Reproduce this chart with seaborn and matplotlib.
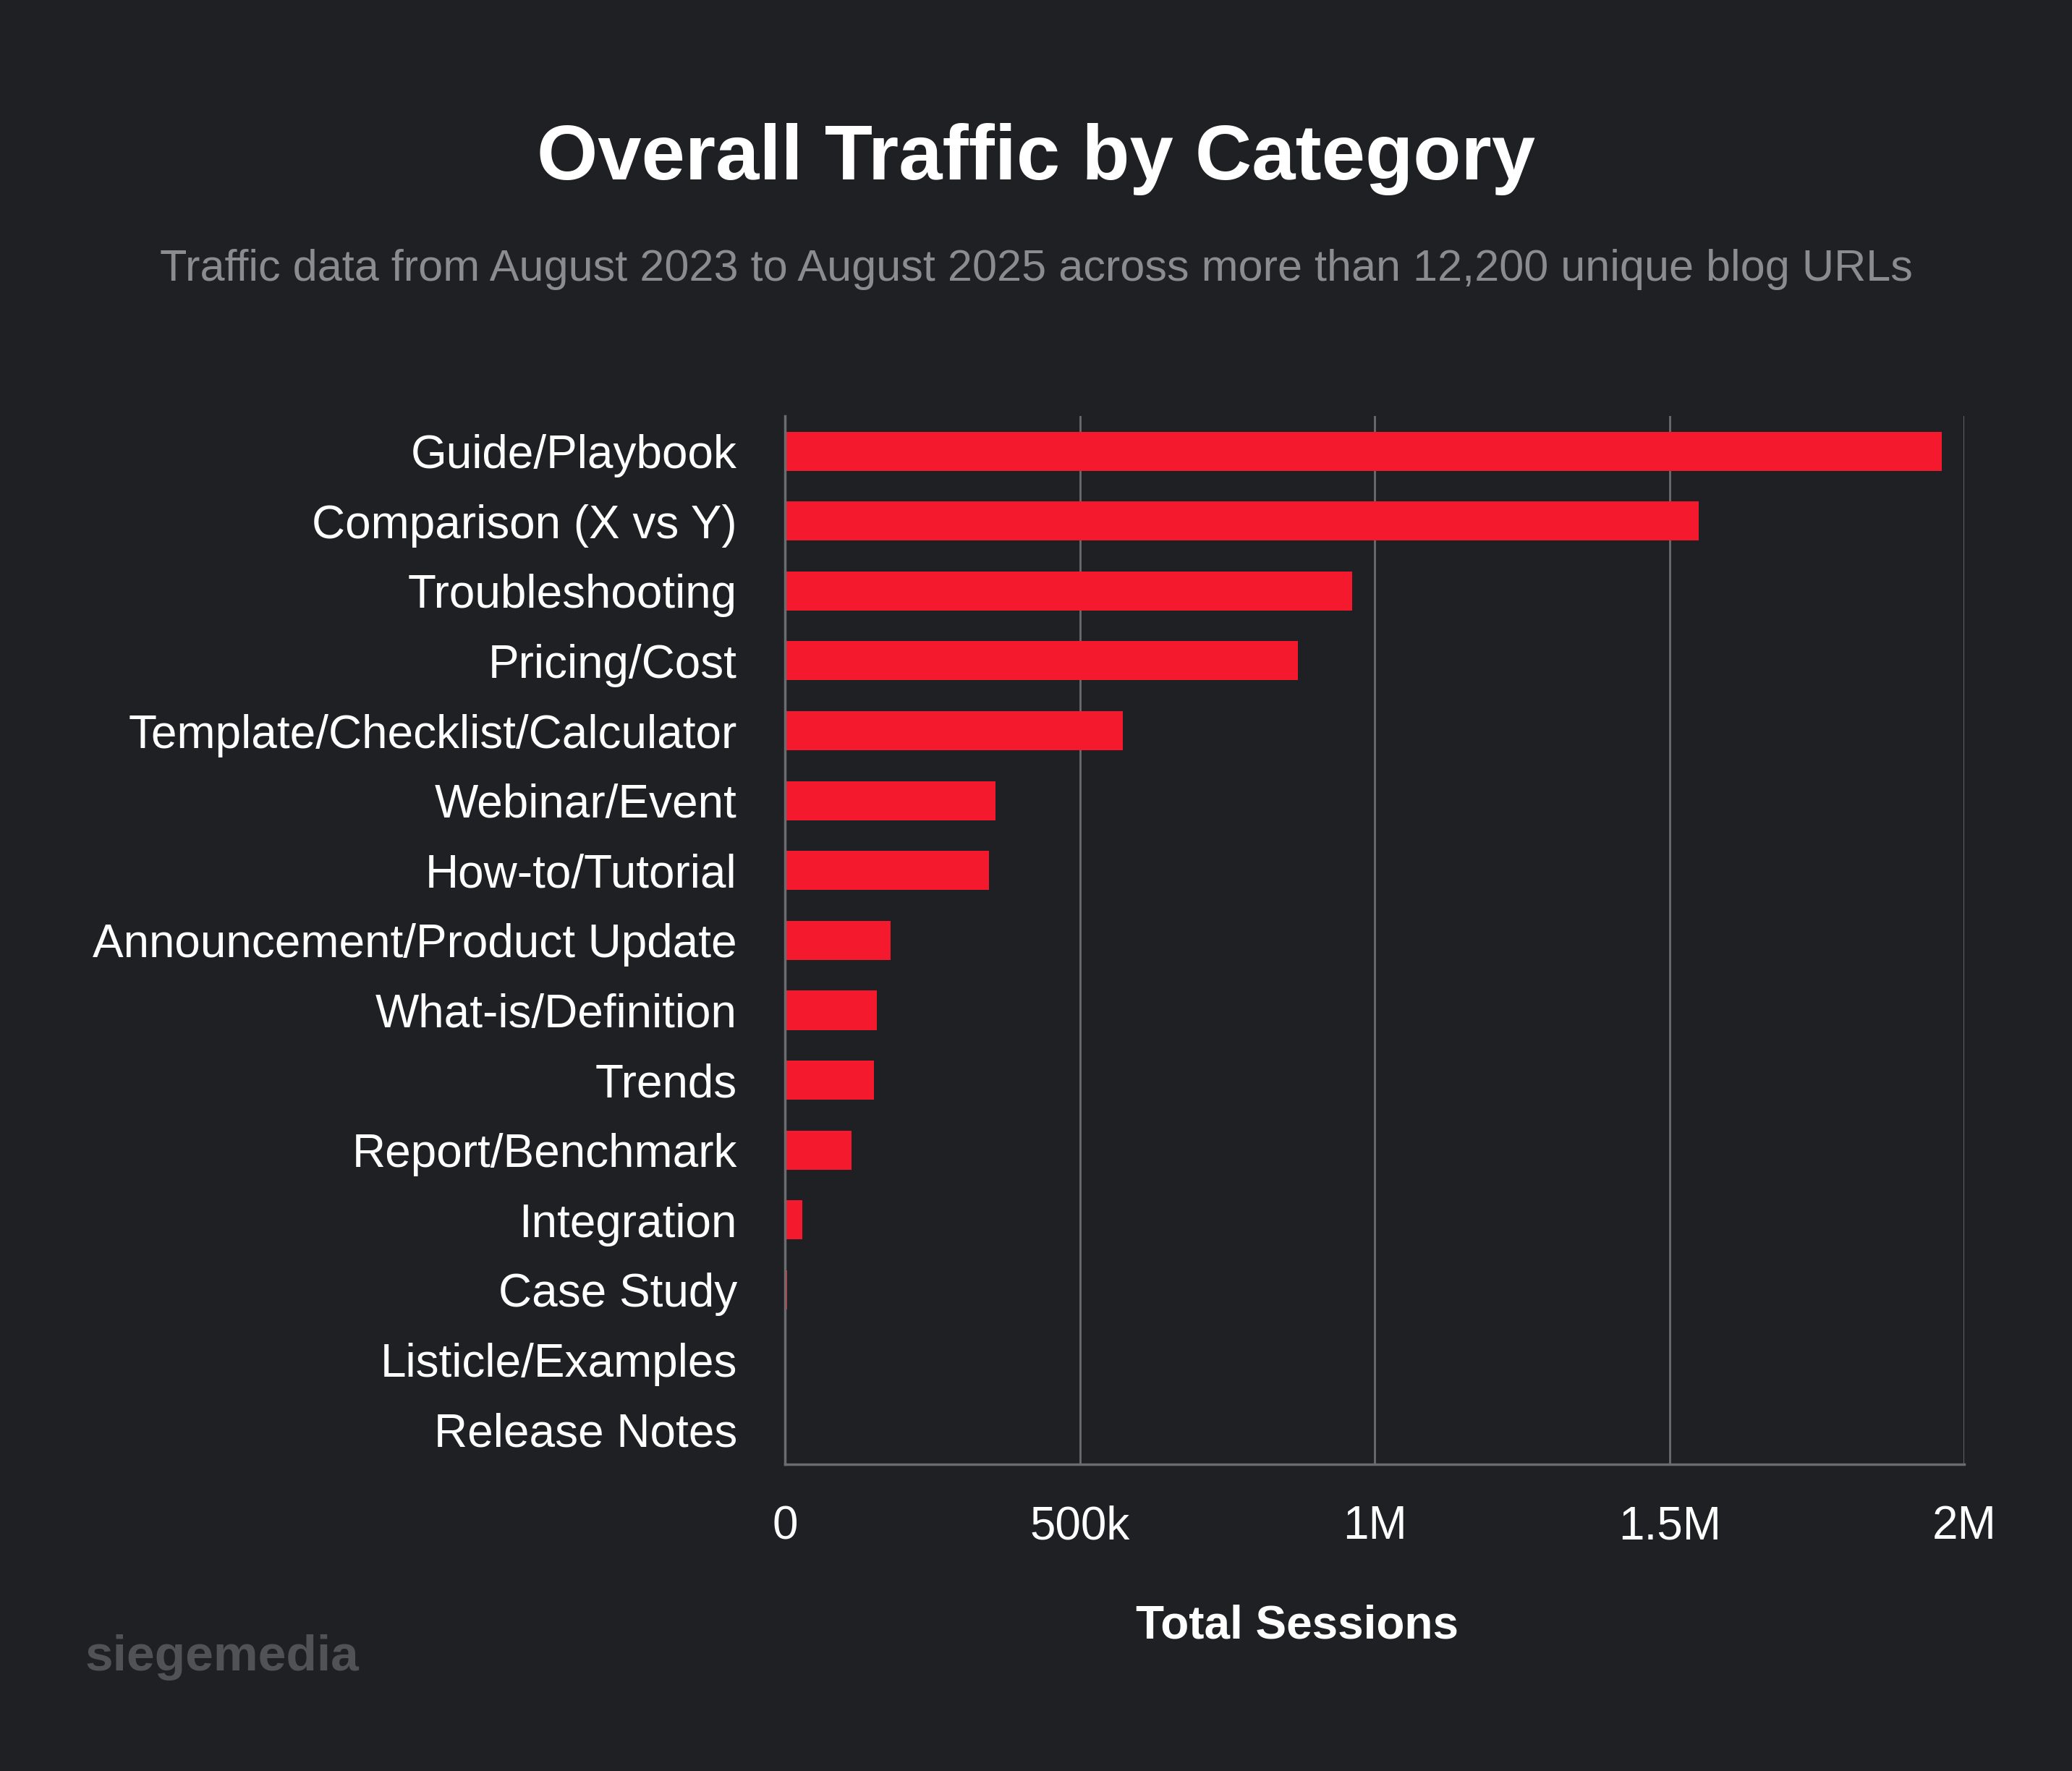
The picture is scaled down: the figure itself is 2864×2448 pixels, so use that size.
import matplotlib
matplotlib.use("Agg")
import matplotlib.pyplot as plt
import seaborn as sns
import pandas as pd

categories = ["Guide/Playbook", "Comparison (X vs Y)", "Troubleshooting", "Pricing/Cost",
              "Template/Checklist/Calculator", "Webinar/Event", "How-to/Tutorial",
              "Announcement/Product Update", "What-is/Definition", "Trends",
              "Report/Benchmark", "Integration", "Case Study", "Listicle/Examples", "Release Notes"]
sessions = [1962000, 1549000, 962000, 870000, 572000, 357000, 345000,
            179000, 155000, 150000, 112000, 29000, 3000, 0, 0]
xticks = [0, 500000, 1000000, 1500000, 2000000]
xtick_labels = ["0", "500k", "1M", "1.5M", "2M"]

BG = "#1e2023"
RED = "#f5192e"
sns.set_theme(style="dark")
plt.rcParams['font.family'] = ['Liberation Sans', 'DejaVu Sans']

df = pd.DataFrame({"cat": categories, "val": sessions})
fig = plt.figure(figsize=(14.32, 12.24), dpi=200, facecolor=BG)
ax = fig.add_axes([0.379, 0.173, 0.569, 0.592])
ax.set_facecolor(BG)
sns.barplot(data=df, x="val", y="cat", color=RED, width=0.56, ax=ax, saturation=1,
            linewidth=0, edgecolor=RED)
ax.set_xlim(0, 2000000)
ax.set_xticks(xticks)
ax.set_xticklabels(xtick_labels)
ax.grid(axis="x", color="#6a6c70", linewidth=1)
ax.grid(axis="y", visible=False)
ax.set_axisbelow(True)
for s in ["top", "right"]:
    ax.spines[s].set_visible(False)
ax.spines["left"].set_color("#6a6c70")
ax.spines["bottom"].set_color("#6a6c70")
ax.tick_params(axis="both", colors="white", labelsize=23, length=0)
ax.tick_params(axis="x", pad=20)
ax.tick_params(axis="y", pad=24)
ax.set_ylabel("")
ax.set_xlabel("")
fig.text(0.626, 0.082, "Total Sessions", color="white", fontsize=23, fontweight="bold",
         ha="center", va="center")

fig.text(0.5, 0.91, "Overall Traffic by Category", color="white", fontsize=39,
         fontweight="bold", ha="center", va="center")
fig.text(0.5, 0.848, "Traffic data from August 2023 to August 2025 across more than 12,200 unique blog URLs",
         color="#8a8c90", fontsize=22, ha="center", va="center")
fig.text(0.041, 0.064, "siegemedia", color="#505256", fontsize=25, fontweight="bold", va="center")
fig.savefig("out.png", facecolor=BG)
